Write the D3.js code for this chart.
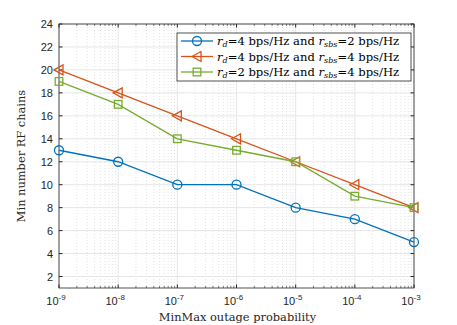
<!DOCTYPE html>
<html>
<head>
<meta charset="utf-8">
<script src="https://cdn.jsdelivr.net/npm/d3@7"></script>
<style>
  body { margin: 0; background: #fff; }
  svg { display: block; }
</style>
</head>
<body>
<div id="chart"></div>
<script>
var width = 457, height = 325;
var margin = { top: 24, right: 43, bottom: 37, left: 59 };
var graphWidth = width - margin.left - margin.right;
var graphHeight = height - margin.top - margin.bottom;

// data
var outageProb = [1e-9, 1e-8, 1e-7, 1e-6, 1e-5, 1e-4, 1e-3];
var chainsA = [13, 12, 10, 10, 8, 7, 5];     // rd=4, rsbs=2
var chainsB = [20, 18, 16, 14, 12, 10, 8];   // rd=4, rsbs=4
var chainsC = [19, 17, 14, 13, 12, 9, 8];    // rd=2, rsbs=4
var yTicks = [2, 4, 6, 8, 10, 12, 14, 16, 18, 20, 22, 24];
var xExponents = [-9, -8, -7, -6, -5, -4, -3];
var legendLabels = [
    { rd: "4", rsbs: "2" },
    { rd: "4", rsbs: "4" },
    { rd: "2", rsbs: "4" }
];

var series = [
    { values: chainsA, color: "#0072BD", marker: "circle" },
    { values: chainsB, color: "#D95319", marker: "triangle" },
    { values: chainsC, color: "#77AC30", marker: "square" }
];

var serif = "DejaVu Serif, serif";

var svg = d3.select("#chart").append("svg")
    .attr("width", width)
    .attr("height", height);

var g = svg.append("g")
    .attr("transform", `translate(${margin.left},${margin.top})`);

var x = d3.scaleLog().domain([1e-9, 1e-3]).range([0, graphWidth]);
var y = d3.scaleLinear().domain([1, 24]).range([graphHeight, 0]);

// minor x grid (dotted)
var minorX = [];
for (var e = -9; e < -3; e++) {
    for (var k = 2; k <= 9; k++) minorX.push(k * Math.pow(10, e));
}
g.selectAll(".minor-x").data(minorX).join("line")
    .attr("x1", d => x(d)).attr("x2", d => x(d))
    .attr("y1", 0).attr("y2", graphHeight)
    .attr("stroke", "#dcdcdc").attr("stroke-width", 0.8)
    .attr("stroke-dasharray", "1,2");

// major grid
g.selectAll(".major-x").data(outageProb).join("line")
    .attr("x1", d => x(d)).attr("x2", d => x(d))
    .attr("y1", 0).attr("y2", graphHeight)
    .attr("stroke", "#e6e6e6").attr("stroke-width", 1);
g.selectAll(".major-y").data(yTicks).join("line")
    .attr("x1", 0).attr("x2", graphWidth)
    .attr("y1", d => y(d)).attr("y2", d => y(d))
    .attr("stroke", "#e6e6e6").attr("stroke-width", 1);

// box
g.append("rect")
    .attr("width", graphWidth).attr("height", graphHeight)
    .attr("fill", "none").attr("stroke", "#262626").attr("stroke-width", 0.8);

// ticks (inward, all four sides)
var tickCol = "#262626";
g.selectAll(".tx").data(outageProb).join("g").each(function(d) {
    var s = d3.select(this);
    s.append("line").attr("x1", x(d)).attr("x2", x(d)).attr("y1", graphHeight).attr("y2", graphHeight - 3.5).attr("stroke", tickCol);
    s.append("line").attr("x1", x(d)).attr("x2", x(d)).attr("y1", 0).attr("y2", 3.5).attr("stroke", tickCol);
});
g.selectAll(".tmx").data(minorX).join("g").each(function(d) {
    var s = d3.select(this);
    s.append("line").attr("x1", x(d)).attr("x2", x(d)).attr("y1", graphHeight).attr("y2", graphHeight - 2).attr("stroke", tickCol).attr("stroke-width", 0.6);
    s.append("line").attr("x1", x(d)).attr("x2", x(d)).attr("y1", 0).attr("y2", 2).attr("stroke", tickCol).attr("stroke-width", 0.6);
});
g.selectAll(".ty").data(yTicks).join("g").each(function(d) {
    var s = d3.select(this);
    s.append("line").attr("x1", 0).attr("x2", 3.5).attr("y1", y(d)).attr("y2", y(d)).attr("stroke", tickCol);
    s.append("line").attr("x1", graphWidth).attr("x2", graphWidth - 3.5).attr("y1", y(d)).attr("y2", y(d)).attr("stroke", tickCol);
});

// tick labels
g.selectAll(".ylab").data(yTicks).join("text")
    .attr("x", -6).attr("y", d => y(d) + 4)
    .attr("text-anchor", "end")
    .style("font-family", "Liberation Sans, Arial, sans-serif")
    .style("font-size", "11px")
    .attr("fill", "#262626")
    .text(d => d);

var xl = g.selectAll(".xlab").data(xExponents).join("text")
    .attr("x", d => x(Math.pow(10, d)) - 3)
    .attr("y", graphHeight + 17)
    .attr("text-anchor", "middle")
    .style("font-family", "Liberation Sans, Arial, sans-serif")
    .style("font-size", "11px")
    .attr("fill", "#262626");
xl.append("tspan").text("10");
xl.append("tspan").attr("dy", -5).style("font-size", "8px").text(d => d);

// axis titles
g.append("text")
    .attr("x", graphWidth / 2 + 1).attr("y", graphHeight + 33)
    .attr("text-anchor", "middle")
    .style("font-family", serif)
    .style("font-size", "11.4px")
    .attr("fill", "#262626")
    .text("MinMax outage probability");

g.append("text")
    .attr("transform", `translate(-34,${graphHeight / 2}) rotate(-90)`)
    .attr("text-anchor", "middle")
    .style("font-family", serif)
    .style("font-size", "11.4px")
    .attr("fill", "#262626")
    .text("Min number RF chains");

// markers
function drawMarker(sel, type, color) {
    if (type === "circle") {
        sel.append("circle").attr("r", 4.5)
            .attr("fill", "none").attr("stroke", color).attr("stroke-width", 1.3);
    } else if (type === "triangle") {
        sel.append("path").attr("d", "M-5,0 L4,-5 L4,5 Z")
            .attr("fill", "none").attr("stroke", color).attr("stroke-width", 1.3);
    } else {
        sel.append("rect").attr("x", -3.8).attr("y", -3.8).attr("width", 7.6).attr("height", 7.6)
            .attr("fill", "none").attr("stroke", color).attr("stroke-width", 1.3);
    }
}

var line = d3.line().x((d, i) => x(outageProb[i])).y(d => y(d));

series.forEach(function(s) {
    g.append("path").datum(s.values)
        .attr("d", line)
        .attr("fill", "none")
        .attr("stroke", s.color)
        .attr("stroke-width", 1.3);
    s.values.forEach(function(v, i) {
        var m = g.append("g").attr("transform", `translate(${x(outageProb[i])},${y(v)})`);
        drawMarker(m, s.marker, s.color);
    });
});

// legend
var legend = svg.append("g").attr("transform", "translate(177,33)");
legend.append("rect")
    .attr("width", 234).attr("height", 48)
    .attr("fill", "#fff").attr("stroke", "#262626").attr("stroke-width", 0.8);

series.forEach(function(s, i) {
    var row = legend.append("g").attr("transform", `translate(0,${8 + i * 15.5})`);
    row.append("line").attr("x1", 4).attr("x2", 36).attr("y1", 0).attr("y2", 0)
        .attr("stroke", s.color).attr("stroke-width", 1.3);
    var m = row.append("g").attr("transform", "translate(20,0)");
    drawMarker(m, s.marker, s.color);
    var t = row.append("text").attr("x", 40).attr("y", 4)
        .style("font-family", serif)
        .style("font-size", "11.6px")
        .attr("fill", "#000");
    t.append("tspan").style("font-style", "italic").text("r");
    t.append("tspan").attr("dy", 2).style("font-size", "8px").style("font-style", "italic").text("d");
    t.append("tspan").attr("dy", -2).text("=" + legendLabels[i].rd + " bps/Hz and ");
    t.append("tspan").style("font-style", "italic").text("r");
    t.append("tspan").attr("dy", 2).style("font-size", "8px").style("font-style", "italic").text("sbs");
    t.append("tspan").attr("dy", -2).text("=" + legendLabels[i].rsbs + " bps/Hz");
});
</script>
</body>
</html>
